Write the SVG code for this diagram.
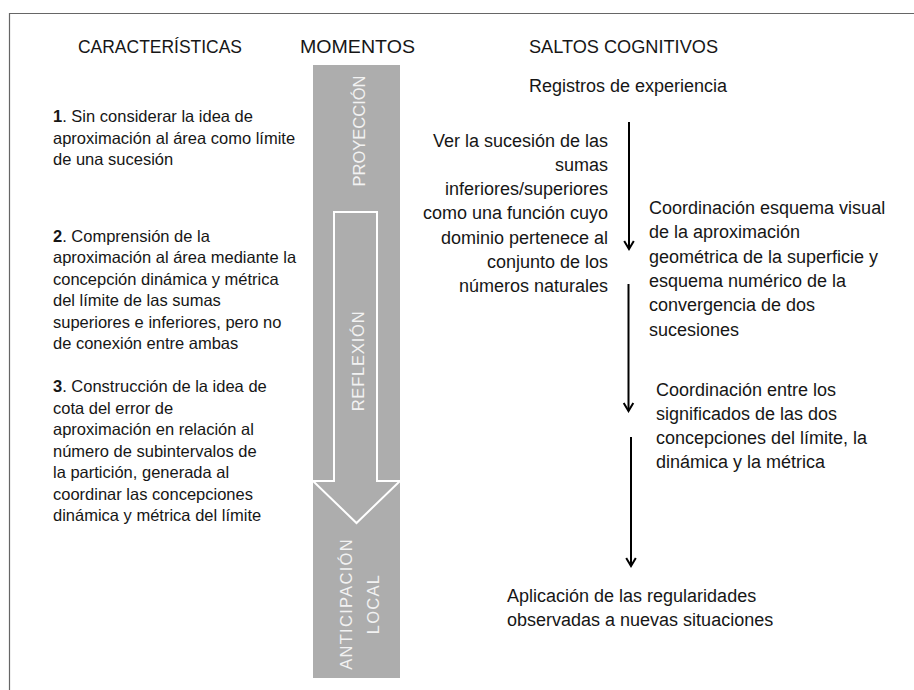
<svg xmlns="http://www.w3.org/2000/svg" width="914" height="690" viewBox="0 0 914 690">
<style>
text{font-family:"Liberation Sans",Arial,sans-serif;fill:#161616}
.h{font-size:18px}
.l{font-size:16.5px}
.r{font-size:18px}
.m{font-size:16.5px;fill:#f2f2f2}
.b{font-weight:bold}
.c{stroke:#000;stroke-width:2;fill:none}
</style>
<defs>
<marker id="ah" markerUnits="userSpaceOnUse" markerWidth="14" markerHeight="14" viewBox="-10 -7 12 14" refX="0" refY="0" orient="auto">
<path d="M-8,-4.8 L0,0 L-8,4.8" fill="none" stroke="#000" stroke-width="2"/>
</marker>
</defs>
<rect width="914" height="690" fill="#fff"/>
<path d="M9.5,690 V13.5 H914" fill="none" stroke="#666" stroke-width="1.2"/>

<g id="headers">
<text class="h" x="78" y="52.5" textLength="164" lengthAdjust="spacingAndGlyphs">CARACTERÍSTICAS</text>
<text class="h" x="300" y="52.5" textLength="115" lengthAdjust="spacingAndGlyphs">MOMENTOS</text>
<text class="h" x="529" y="52.5" textLength="189" lengthAdjust="spacingAndGlyphs">SALTOS COGNITIVOS</text>
</g>

<g id="bar">
<rect x="313" y="65" width="87" height="613" fill="#adadad"/>
<path d="M334,212 H377 V481 H400 L356.5,523 L313,481 H334 Z" fill="none" stroke="#fff" stroke-width="2"/>
<text class="m" transform="translate(365,131) rotate(-90)" text-anchor="middle">PROYECCIÓN</text>
<text class="m" transform="translate(364,361) rotate(-90)" text-anchor="middle" letter-spacing="0.8">REFLEXIÓN</text>
<text class="m" transform="translate(352,604) rotate(-90)" text-anchor="middle" letter-spacing="1.3">ANTICIPACIÓN</text>
<text class="m" transform="translate(379,604) rotate(-90)" text-anchor="middle" letter-spacing="1.3">LOCAL</text>
</g>

<g id="car1">
<text class="l" x="53" y="122"><tspan class="b">1</tspan>. Sin considerar la idea de</text>
<text class="l" x="53" y="143.5">aproximación al área como límite</text>
<text class="l" x="53" y="165">de una sucesión</text>
</g>

<g id="car2">
<text class="l" x="53" y="241.5"><tspan class="b">2</tspan>. Comprensión de la</text>
<text class="l" x="53" y="263">aproximación al área mediante la</text>
<text class="l" x="53" y="284.5">concepción dinámica y métrica</text>
<text class="l" x="53" y="306">del límite de las sumas</text>
<text class="l" x="53" y="327.5">superiores e inferiores, pero no</text>
<text class="l" x="53" y="349">de conexión entre ambas</text>
</g>

<g id="car3">
<text class="l" x="53" y="392"><tspan class="b">3</tspan>. Construcción de la idea de</text>
<text class="l" x="53" y="413.5">cota del error de</text>
<text class="l" x="53" y="435">aproximación en relación al</text>
<text class="l" x="53" y="456.5">número de subintervalos de</text>
<text class="l" x="53" y="478">la partición, generada al</text>
<text class="l" x="53" y="499.5">coordinar las concepciones</text>
<text class="l" x="53" y="521">dinámica y métrica del límite</text>
</g>

<g id="s0">
<text class="r" x="529" y="91.5">Registros de experiencia</text>
</g>

<g id="s1" text-anchor="end">
<text class="r" x="608" y="146.5">Ver la sucesión de las</text>
<text class="r" x="608" y="170.8">sumas</text>
<text class="r" x="608" y="195.1">inferiores/superiores</text>
<text class="r" x="608" y="219.4">como una función cuyo</text>
<text class="r" x="608" y="243.7">dominio pertenece al</text>
<text class="r" x="608" y="268">conjunto de los</text>
<text class="r" x="608" y="292.3">números naturales</text>
</g>

<g id="s2">
<text class="r" x="649" y="214">Coordinación esquema visual</text>
<text class="r" x="649" y="238.3">de la aproximación</text>
<text class="r" x="649" y="262.6">geométrica de la superficie y</text>
<text class="r" x="649" y="286.9">esquema numérico de la</text>
<text class="r" x="649" y="311.2">convergencia de dos</text>
<text class="r" x="649" y="335.5">sucesiones</text>
</g>

<g id="s3">
<text class="r" x="656" y="395.5">Coordinación entre los</text>
<text class="r" x="656" y="419.8">significados de las dos</text>
<text class="r" x="656" y="444.1">concepciones del límite, la</text>
<text class="r" x="656" y="468.4">dinámica y la métrica</text>
</g>

<g id="s4">
<text class="r" x="507" y="602">Aplicación de las regularidades</text>
<text class="r" x="507" y="626">observadas a nuevas situaciones</text>
</g>

<g id="connectors">
<line class="c" x1="629" y1="122" x2="629" y2="249" marker-end="url(#ah)"/>
<line class="c" x1="628.5" y1="284" x2="628.5" y2="411" marker-end="url(#ah)"/>
<line class="c" x1="631" y1="437" x2="631" y2="566" marker-end="url(#ah)"/>
</g>
</svg>
